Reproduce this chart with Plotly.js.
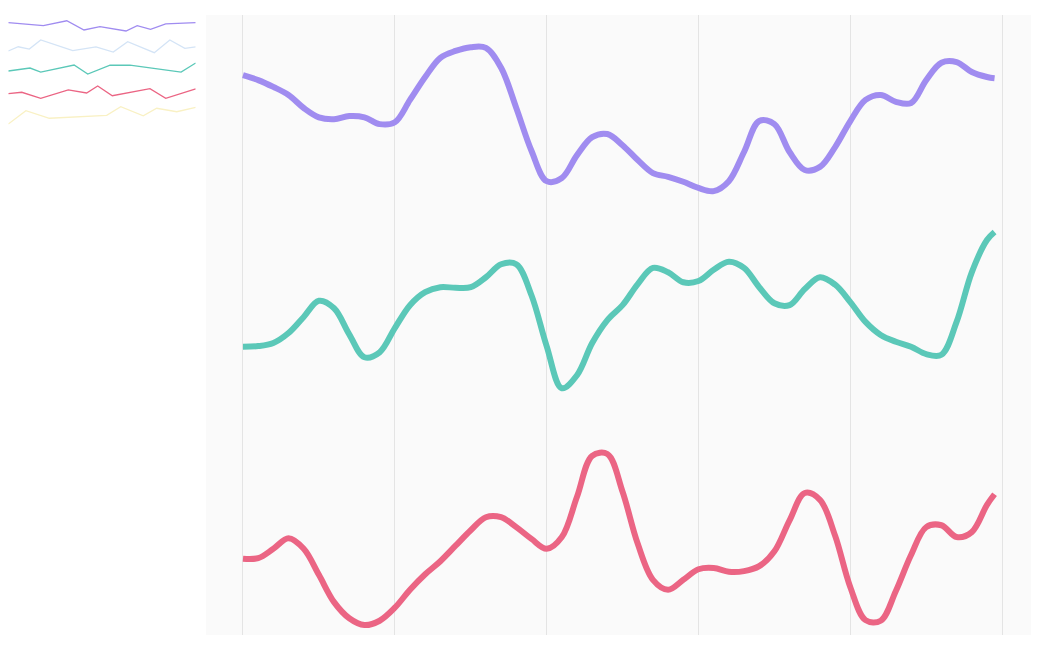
<!DOCTYPE html>
<html>
<head>
<meta charset="utf-8">
<script src="https://cdn.plot.ly/plotly-3.0.1.min.js"></script>
<style>html,body{margin:0;padding:0;background:#fff;}#chart{width:1039px;height:654px;}</style>
</head>
<body>
<div id="chart"></div>
<script>
// Main series: x positions (step 2, last point 99)
const mainX = [0,2,4,6,8,10,12,14,16,18,20,22,24,26,28,30,32,34,36,38,40,42,44,46,48,50,52,54,56,58,60,62,64,66,68,70,72,74,76,78,80,82,84,86,88,90,92,94,96,98,99];
const purpleVals = [90.3,89.5,88.4,87.1,85.0,83.5,83.2,83.7,83.5,82.4,82.7,86.3,90.0,93.1,94.2,94.8,94.7,91.5,85.0,78.1,73.2,73.7,77.4,80.3,80.8,79.0,76.6,74.5,73.9,73.1,72.1,71.6,73.2,77.9,82.9,82.4,77.9,75.0,75.5,78.7,82.9,86.3,87.1,86.0,85.8,89.5,92.3,92.4,90.8,90.0,89.8];
const tealVals = [46.5,46.6,47.1,48.7,51.3,53.9,52.7,48.5,44.8,45.6,49.5,53.2,55.3,56.1,56.0,56.1,57.7,59.8,59.8,54.8,46.6,39.8,41.9,47.1,50.8,53.2,56.6,59.2,58.5,56.9,57.1,58.9,60.2,59.2,56.1,53.5,53.2,55.8,57.7,56.5,53.7,50.5,48.4,47.3,46.5,45.3,45.2,50.5,58.5,63.7,65.0];
const pinkVals = [12.3,12.4,13.9,15.6,13.9,9.7,5.3,2.7,1.6,2.3,4.4,7.3,9.8,11.9,14.4,16.9,19.0,19.0,17.4,15.5,13.9,15.8,22.3,28.9,29.2,23.1,14.7,8.9,7.3,8.9,10.6,10.8,10.2,10.3,11.1,13.5,18.5,22.9,21.8,16.0,7.7,2.4,2.3,7.1,12.9,17.4,17.7,15.8,16.6,21.0,22.7];

// Sparklines (top-left)
const spPurpleX = [0,18.7,31.2,40.4,48.9,62.8,68.8,75.9,84.0,100];
const spPurpleY = [93.3,90.7,95.0,87.0,89.8,86.1,90.7,87.6,92.2,93.3];
const spBlueX = [0,5.3,11.2,17.3,34.4,46.8,56.0,63.7,77.9,86.2,94.2,100];
const spBlueY = [68.7,72.4,70.4,78.3,69.0,72.2,67.8,76.8,67.2,78.3,71.0,72.2];
const spTealX = [0,11.6,17.3,35.1,42.4,54.3,64.9,92.2,100];
const spTealY = [51.3,53.9,50.4,56.5,48.7,56.3,56.5,50.4,58.3];
const spPinkX = [0,7.2,17.3,32.0,41.8,47.7,55.5,75.6,84.0,100];
const spPinkY = [31.6,32.8,27.6,34.8,32.2,38.3,29.8,35.9,27.6,35.7];
const spYellowX = [0,9.4,21.9,52.5,60.0,72.0,79.2,89.9,100];
const spYellowY = [5.2,16.8,10.2,12.8,20.3,12.4,18.9,15.9,19.7];

const colors = {purple:'#a08cf0', teal:'#5bc8b8', pink:'#eb6584', blue:'#d4e4f6', yellow:'#f9f1c4'};

function mainTrace(y, c){
  return {x: mainX, y: y, type:'scatter', mode:'lines', xaxis:'x', yaxis:'y',
    line:{color:c, width:6, shape:'spline', smoothing:1}, hoverinfo:'skip', showlegend:false};
}
function sparkTrace(x, y, c){
  return {x: x, y: y, type:'scatter', mode:'lines', xaxis:'x2', yaxis:'y2',
    line:{color:c, width:1.3}, hoverinfo:'skip', showlegend:false};
}

const data = [
  mainTrace(purpleVals, colors.purple),
  mainTrace(tealVals, colors.teal),
  mainTrace(pinkVals, colors.pink),
  sparkTrace(spPurpleX, spPurpleY, colors.purple),
  sparkTrace(spBlueX, spBlueY, colors.blue),
  sparkTrace(spTealX, spTealY, colors.teal),
  sparkTrace(spPinkX, spPinkY, colors.pink),
  sparkTrace(spYellowX, spYellowY, colors.yellow)
];

const W = 1039, H = 654;
const layout = {
  width: W, height: H,
  margin: {l:0, r:0, t:0, b:0, pad:0},
  paper_bgcolor: '#ffffff',
  plot_bgcolor: 'rgba(0,0,0,0)',
  showlegend: false,
  xaxis: {domain:[206/W, 1031/W], range:[-4.87, 103.8], tick0:0, dtick:20,
    showgrid:true, gridcolor:'#e4e4e4', gridwidth:1, zeroline:false,
    showticklabels:false, ticks:'', showline:false, fixedrange:true},
  yaxis: {domain:[19/H, 639/H], range:[0,100], showgrid:false, zeroline:false,
    showticklabels:false, ticks:'', showline:false, fixedrange:true},
  xaxis2: {domain:[8.3/W, 195.7/W], range:[0,100], anchor:'y2', showgrid:false,
    zeroline:false, showticklabels:false, ticks:'', showline:false, fixedrange:true},
  yaxis2: {domain:[(H-130)/H, (H-15)/H], range:[0,100], anchor:'x2', showgrid:false,
    zeroline:false, showticklabels:false, ticks:'', showline:false, fixedrange:true},
  shapes: [{type:'rect', xref:'x domain', yref:'y domain', x0:0, x1:1, y0:0, y1:1,
    fillcolor:'#fafafa', line:{width:0}, layer:'below'}]
};

Plotly.newPlot('chart', data, layout, {displayModeBar:false, staticPlot:true});
</script>
</body>
</html>
